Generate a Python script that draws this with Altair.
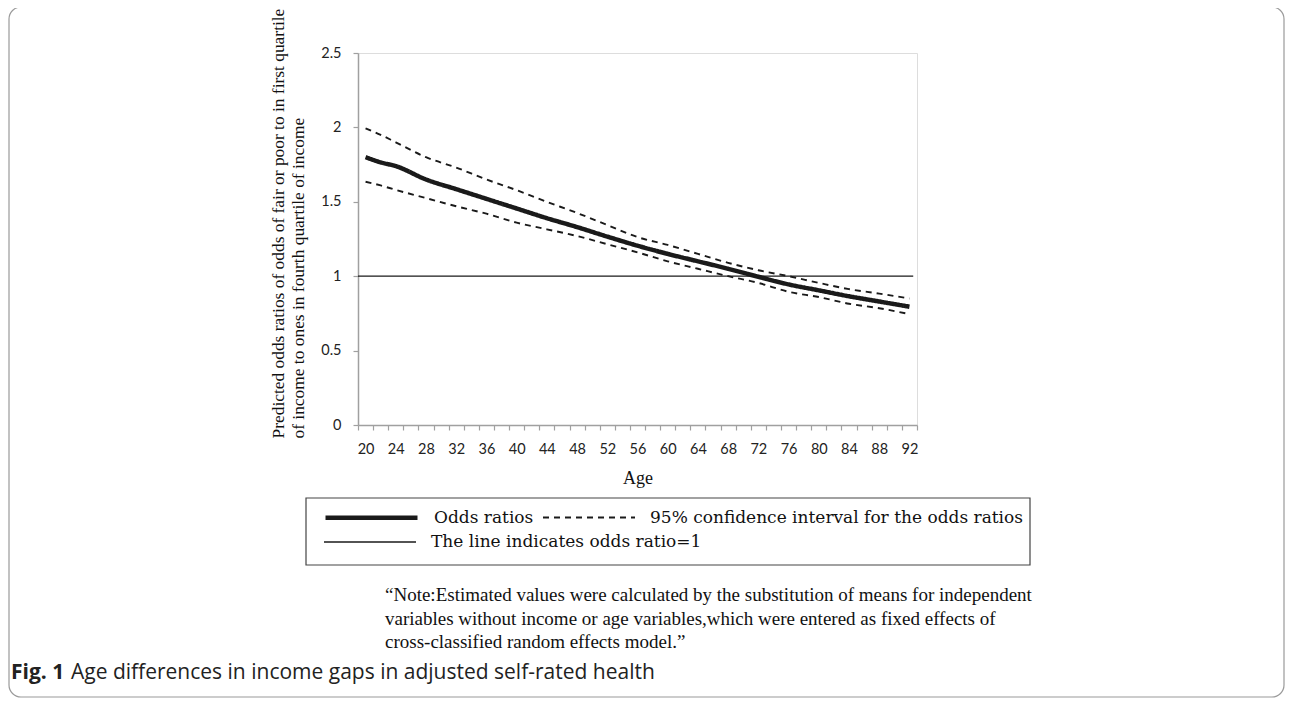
import altair as alt
import pandas as pd

# ---- data ----
ages = [20, 22, 24, 28, 32, 36, 40, 44, 48, 52, 56, 60, 64, 68, 72, 76, 80, 84, 88, 92]
odds = [1.80, 1.765, 1.74, 1.65, 1.585, 1.52, 1.455, 1.39, 1.33, 1.266, 1.205, 1.15,
        1.10, 1.05, 0.996, 0.945, 0.905, 0.865, 0.83, 0.795]
upper = [1.994, 1.95, 1.90, 1.80, 1.73, 1.65, 1.578, 1.50, 1.425, 1.344, 1.263, 1.21,
         1.15, 1.09, 1.04, 1.00, 0.955, 0.913, 0.883, 0.85]
lower = [1.635, 1.61, 1.58, 1.525, 1.47, 1.42, 1.36, 1.315, 1.27, 1.215, 1.16, 1.10,
         1.05, 1.00, 0.955, 0.895, 0.86, 0.815, 0.785, 0.745]
ref_ages = [19, 92.5]
ref_vals = [1.0, 1.0]

series_names = ["Odds ratios",
                "95% confidence interval for the odds ratios"]
ref_name = "The line indicates odds ratio=1"

y_ticks = [0, 0.5, 1, 1.5, 2, 2.5]
x_ticks = list(range(19, 94))

y_title = ["Predicted odds ratios of odds of fair or poor to in first quartile",
           "of income to ones in fourth quartile of income"]
note_lines = ["\u201cNote:Estimated values were calculated by the substitution of means for independent",
              "variables without income or age variables,which were entered as fixed effects of",
              "cross-classified random effects model.\u201d"]
caption_bold = "Fig. 1"
caption_text = "Age differences in income gaps in adjusted self-rated health"

rows = []
for a, v in zip(ages, upper):
    rows.append(dict(age=a, value=v, series=series_names[1], line="upper"))
for a, v in zip(ages, lower):
    rows.append(dict(age=a, value=v, series=series_names[1], line="lower"))
for a, v in zip(ages, odds):
    rows.append(dict(age=a, value=v, series=series_names[0], line="odds"))
df = pd.DataFrame(rows)
df_ref = pd.DataFrame({"age": ref_ages, "value": ref_vals, "ref": [ref_name] * len(ref_ages)})

one = pd.DataFrame({"k": [0]})

legend1 = alt.Legend(orient="none", legendX=-35, legendY=416, direction="horizontal",
                     symbolType="stroke", symbolSize=8464, labelFont="DejaVu Serif",
                     labelFontSize=17, labelColor="#111", labelLimit=700, labelOffset=14,
                     symbolStrokeColor="#1a1a1a", columnPadding=5, padding=0)
legend2 = alt.Legend(orient="none", legendX=-35, legendY=442, direction="horizontal",
                     symbolType="stroke", symbolSize=8464, labelFont="DejaVu Serif",
                     labelFontSize=17, labelColor="#111", labelLimit=700, labelOffset=14,
                     symbolStrokeWidth=1.3, padding=0)

x_enc = alt.X("age:Q", title="Age",
              scale=alt.Scale(domain=[19, 93], nice=False, zero=False),
              axis=alt.Axis(values=x_ticks, format="d",
                            labelExpr="datum.value % 4 == 0 ? datum.label : ''",
                            tickOpacity={"condition": {"test": "datum.value % 2 == 1", "value": 1}, "value": 0},
                            tickSize=5, tickColor="#a0a0a0", tickWidth=1.2,
                            domainColor="#a0a0a0", domainWidth=1.5,
                            labelFont="Lato", labelFontSize=14.5, labelColor="#222",
                            labelPadding=12, labelOverlap=False, labelFlush=False, grid=False,
                            titleFont="Liberation Serif", titleFontSize=18,
                            titleFontWeight="normal", titleColor="#111", titlePadding=14))
y_enc = alt.Y("value:Q", title=y_title,
              scale=alt.Scale(domain=[0, 2.5], nice=False, zero=True),
              axis=alt.Axis(values=y_ticks, format="~g", tickSize=5, tickColor="#a0a0a0",
                            tickWidth=1.2, domainColor="#a0a0a0", domainWidth=1.5,
                            labelFont="Lato", labelFontSize=14.5, labelColor="#222",
                            labelPadding=12, grid=False, labelFlush=False,
                            titleFont="Liberation Serif", titleFontSize=17.4,
                            titleFontWeight="normal", titleColor="#111",
                            titleX=-71, titleY=385, titleAlign="left", titleAngle=270,
                            titleBaseline="bottom", titleLineHeight=20.5))

ref_line = alt.Chart(df_ref).mark_line(strokeWidth=1.3).encode(
    x=x_enc,
    y=y_enc,
    color=alt.Color("ref:N", title=None, legend=legend2,
                    scale=alt.Scale(domain=[ref_name], range=["#1a1a1a"])),
)

lines = alt.Chart(df).mark_line(interpolate="monotone", strokeJoin="round",
                                color="#1a1a1a").encode(
    x=x_enc,
    y=y_enc,
    strokeWidth=alt.StrokeWidth("series:N", title=None, legend=legend1,
                                scale=alt.Scale(domain=series_names, range=[4.5, 1.9])),
    strokeDash=alt.StrokeDash("series:N", title=None, legend=legend1,
                              scale=alt.Scale(domain=series_names, range=[[1, 0], [6, 5]])),
    detail="line:N",
)

frame = alt.Chart(one).mark_rect(fillOpacity=0, stroke="#9a9a9a", strokeWidth=1.2,
                                 cornerRadius=12).encode(
    x=alt.value(-349), x2=alt.value(926), y=alt.value(-46), y2=alt.value(644))

legend_box = alt.Chart(one).mark_rect(fillOpacity=0, stroke="#444444", strokeWidth=1.2).encode(
    x=alt.value(-52), x2=alt.value(672), y=alt.value(445), y2=alt.value(512))

note = alt.Chart(one).mark_text(align="left", baseline="middle", font="Liberation Serif",
                                fontSize=19, lineHeight=23.5, color="#111").encode(
    x=alt.value(27), y=alt.value(542), text=alt.value(note_lines))

cap1 = alt.Chart(one).mark_text(align="left", baseline="middle", font="Open Sans",
                                fontSize=21, fontWeight="bold", color="#222").encode(
    x=alt.value(-347), y=alt.value(620), text=alt.value(caption_bold))
cap2 = alt.Chart(one).mark_text(align="left", baseline="middle", font="Open Sans",
                                fontSize=21, color="#222").encode(
    x=alt.value(-287), y=alt.value(620), text=alt.value(caption_text))

chart = alt.layer(frame, legend_box, ref_line, lines, note, cap1, cap2).properties(
    width=559, height=372,
    autosize=alt.AutoSizeParams(type="none"),
    padding={"left": 350, "top": 45, "right": 368, "bottom": 275},
).configure_view(stroke="transparent").configure(background="white")

chart.save("out.html", embed_options={"renderer": "svg", "actions": False})
